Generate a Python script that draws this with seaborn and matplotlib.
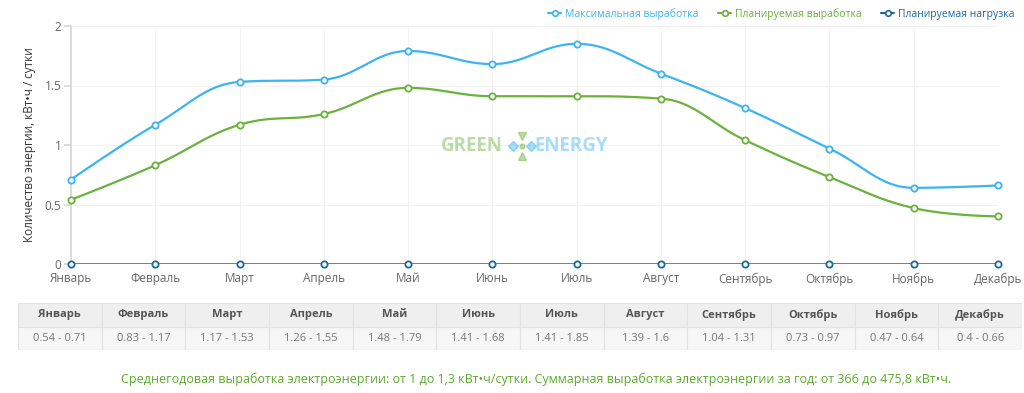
import numpy as np
import pandas as pd
import seaborn as sns
import matplotlib.pyplot as plt
from matplotlib.lines import Line2D
from matplotlib.patches import Rectangle

# data
months = ['Январь', 'Февраль', 'Март', 'Апрель', 'Май', 'Июнь',
          'Июль', 'Август', 'Сентябрь', 'Октябрь', 'Ноябрь', 'Декабрь']
max_output = [0.71, 1.17, 1.53, 1.55, 1.79, 1.68, 1.85, 1.6, 1.31, 0.97, 0.64, 0.66]
plan_output = [0.54, 0.83, 1.17, 1.26, 1.48, 1.41, 1.41, 1.39, 1.04, 0.73, 0.47, 0.4]
plan_load = [0, 0, 0, 0, 0, 0, 0, 0, 0, 0, 0, 0]
range_labels = ['0.54 - 0.71', '0.83 - 1.17', '1.17 - 1.53', '1.26 - 1.55', '1.48 - 1.79',
                '1.41 - 1.68', '1.41 - 1.85', '1.39 - 1.6', '1.04 - 1.31', '0.73 - 0.97',
                '0.47 - 0.64', '0.4 - 0.66']
series_names = ['Максимальная выработка', 'Планируемая выработка', 'Планируемая нагрузка']
colors = ['#3cb4f2', '#6bb23c', '#1b6a99']
footer = ('Среднегодовая выработка электроэнергии: от 1 до 1,3 кВт•ч/сутки. '
          'Суммарная выработка электроэнергии за год: от 366 до 475,8 кВт•ч.')

sns.set_theme(style="white")
plt.rcParams['font.family'] = ['Open Sans', 'DejaVu Sans']


def spline(xs, ys, n=30):
    # highcharts-like spline through the points
    xs = np.asarray(xs, float)
    ys = np.asarray(ys, float)
    k = 1.5
    lc = [(x, y) for x, y in zip(xs, ys)]
    rc = [(x, y) for x, y in zip(xs, ys)]
    for i in range(1, len(xs) - 1):
        lx = (k * xs[i] + xs[i - 1]) / (k + 1)
        ly = (k * ys[i] + ys[i - 1]) / (k + 1)
        rx = (k * xs[i] + xs[i + 1]) / (k + 1)
        ry = (k * ys[i] + ys[i + 1]) / (k + 1)
        corr = ((ry - ly) * (rx - xs[i])) / (rx - lx) + ys[i] - ry
        ly += corr
        ry += corr
        if ly > max(ys[i - 1], ys[i]):
            ly = max(ys[i - 1], ys[i]); ry = 2 * ys[i] - ly
        elif ly < min(ys[i - 1], ys[i]):
            ly = min(ys[i - 1], ys[i]); ry = 2 * ys[i] - ly
        if ry > max(ys[i], ys[i + 1]):
            ry = max(ys[i], ys[i + 1]); ly = 2 * ys[i] - ry
        elif ry < min(ys[i], ys[i + 1]):
            ry = min(ys[i], ys[i + 1]); ly = 2 * ys[i] - ry
        lc[i] = (lx, ly)
        rc[i] = (rx, ry)
    px, py = [], []
    t = np.linspace(0, 1, n)
    for i in range(len(xs) - 1):
        p0 = np.array([xs[i], ys[i]])
        p1 = np.array(rc[i])
        p2 = np.array(lc[i + 1])
        p3 = np.array([xs[i + 1], ys[i + 1]])
        b = (((1 - t) ** 3)[:, None] * p0 + (3 * (1 - t) ** 2 * t)[:, None] * p1
             + (3 * (1 - t) * t ** 2)[:, None] * p2 + (t ** 3)[:, None] * p3)
        px.extend(b[:, 0]); py.extend(b[:, 1])
    return np.array(px), np.array(py)


fig = plt.figure(figsize=(10.24, 3.93), dpi=100)
ax = fig.add_axes([71 / 1024, 129 / 393, 927 / 1024, 238 / 393])

x = np.arange(len(months))
for name, vals, c in zip(series_names, [max_output, plan_output, plan_load], colors):
    sx, sy = spline(x, vals)
    sns.lineplot(x=sx, y=sy, ax=ax, color=c, lw=1.6 if c != colors[2] else 1.8,
                 sort=False, zorder=3)
    ax.plot(x, vals, 'o', ms=4.5, mfc='white', mec=c, mew=1.3, zorder=4, clip_on=False)

ax.set_xlim(0, 11)
ax.set_ylim(0, 2)
ax.set_yticks([0, 0.5, 1, 1.5, 2])
ax.set_yticklabels(['0', '0.5', '1', '1.5', '2'])
ax.set_xticks(x)
ax.set_xticklabels(months)
ax.grid(True, color='#f2f2f2', lw=0.8)
for s in ['top', 'right', 'bottom']:
    ax.spines[s].set_visible(False)
ax.spines['left'].set_color('#d8d8d8')
ax.tick_params(axis='y', left=True, length=5, color='#d8d8d8', labelsize=8.5,
               labelcolor='#666666', pad=2)
ax.tick_params(axis='x', bottom=False, labelsize=8.5, labelcolor='#666666', pad=0)
ax.set_ylabel('Количество энергии, кВт•ч / сутки', fontsize=8.5, color='#333333', labelpad=6)

# legend
handles = [Line2D([0], [0], color=c, lw=1.5, marker='o', ms=4, mfc='white', mec=c, mew=1.2)
           for c in colors]
leg = fig.legend(handles, series_names, loc='upper right', bbox_to_anchor=(1.0, 1.003), ncol=3,
                 frameon=False, fontsize=7.5, handlelength=1.2, handletextpad=0.4,
                 columnspacing=1.9)
for t, c in zip(leg.get_texts(), colors):
    t.set_color(c)

# watermark
cy = 1 - 146 / 393
fig.text(472 / 1024, cy, 'GREEN', color='#6bb23c', alpha=0.45, fontsize=13.5,
         fontweight='bold', ha='center', va='center')
fig.text(571 / 1024, cy, 'ENERGY', color='#3cb4f2', alpha=0.45, fontsize=13.5,
         fontweight='bold', ha='center', va='center')
cx = 522 / 1024
fig.add_artist(Line2D([cx], [cy], marker='o', ms=3.5, color='#6bb23c', alpha=0.45))
fig.add_artist(Line2D([cx - 9 / 1024, cx + 9 / 1024], [cy, cy], ls='none', marker='D', ms=5,
                      color='#3cb4f2', alpha=0.45))
fig.add_artist(Line2D([cx], [cy + 10 / 393], ls='none', marker='v', ms=6,
                      color='#6bb23c', alpha=0.45))
fig.add_artist(Line2D([cx], [cy - 10 / 393], ls='none', marker='^', ms=6,
                      color='#6bb23c', alpha=0.45))

# table
tab = fig.add_axes([18 / 1024, 43 / 393, 1004 / 1024, 47 / 393])
tab.set_xlim(0, 12)
tab.set_ylim(0, 2)
tab.axis('off')
for i, (m, r) in enumerate(zip(months, range_labels)):
    tab.add_patch(Rectangle((i, 1), 1, 1, fc='#efefef', ec='#e2e2e2', lw=0.8))
    tab.add_patch(Rectangle((i, 0), 1, 1, fc='#f6f6f6', ec='#e2e2e2', lw=0.8))
    tab.text(i + 0.5, 1.5, m, ha='center', va='center', fontsize=8, fontweight='bold',
             color='#555555')
    tab.text(i + 0.5, 0.5, r, ha='center', va='center', fontsize=8, color='#777777')

fig.text(536 / 1024, 1 - 379 / 393, footer, ha='center', va='center', fontsize=9,
         color='#5daa2e')

plt.savefig('out.png', dpi=100)
